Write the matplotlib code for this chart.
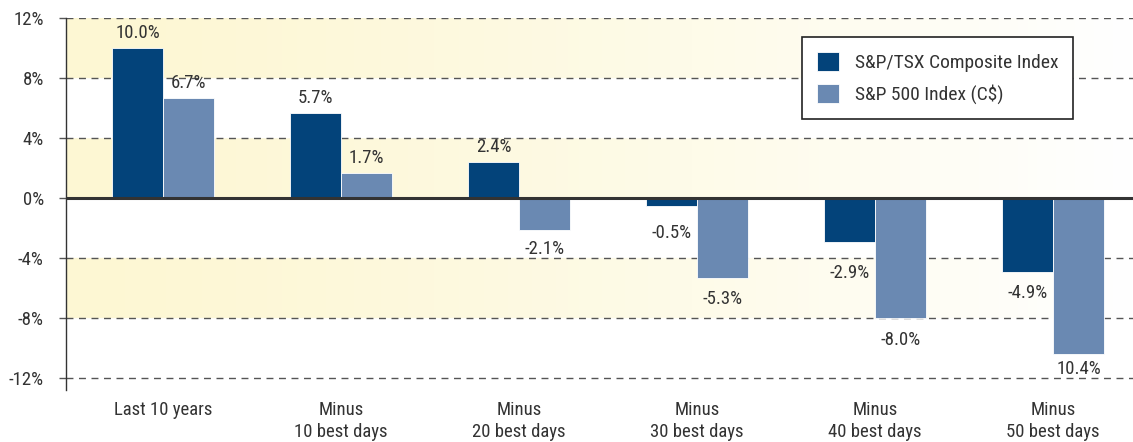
import matplotlib
matplotlib.use("Agg")

import numpy as np
import matplotlib.pyplot as plt
from matplotlib.colors import to_rgb

# Data
categories = ["Last 10 years", "Minus\n10 best days", "Minus\n20 best days",
              "Minus\n30 best days", "Minus\n40 best days", "Minus\n50 best days"]
tsx = [10.0, 5.7, 2.4, -0.5, -2.9, -4.9]
sp500 = [6.7, 1.7, -2.1, -5.3, -8.0, -10.4]
tsx_labels = ["10.0%", "5.7%", "2.4%", "-0.5%", "-2.9%", "-4.9%"]
sp500_labels = ["6.7%", "1.7%", "-2.1%", "-5.3%", "-8.0%", "10.4%"]
yticks = [-12, -8, -4, 0, 4, 8, 12]
bands = [(8, 12), (0, 4), (-8, -4)]

dark = "#03437A"
light = "#6A89B2"
text_col = "#333333"
plt.rcParams["font.family"] = ["Roboto Condensed", "Archivo Narrow", "DejaVu Sans"]
fs = 13.5

# extra label nudges (points) so labels clear the gridlines, as in the original
nudge = {(0, 3): -4, (0, 4): -7, (1, 2): 1.5, (1, 5): 5}

fig = plt.figure(figsize=(11.33, 4.42), dpi=100)
ax = fig.add_axes([0.0583, 0.1176, 0.9417, 0.8416])

xlo, xhi = -0.545, 5.45
ylo, yhi = -12.8, 12.0
ax.set_xlim(xlo, xhi)
ax.set_ylim(ylo, yhi)

# yellow-to-white gradient bands
ny, nx = 600, 400
yy = np.linspace(yhi, ylo, ny)
img = np.ones((ny, nx, 3))
yellow = np.array(to_rgb("#FDF7D3"))
t = np.linspace(0, 1, nx) ** 1.3
row = yellow[None, :] * (1 - t[:, None]) + np.ones(3)[None, :] * t[:, None]
for lo, hi in bands:
    mask = (yy >= lo) & (yy <= hi)
    img[mask] = row
ax.imshow(img, extent=(xlo, xhi, ylo, yhi), aspect="auto", zorder=0,
          interpolation="bilinear")

# grid lines
for y in yticks:
    if y == 0:
        continue
    ax.axhline(y, color="#555555", lw=1.0, ls=(0, (5, 4)), zorder=1)
ax.axhline(0, color="#333333", lw=2.2, zorder=4)

x = np.arange(len(categories))
w = 0.287
ax.bar(x - w / 2, tsx, w, color=dark, edgecolor="white", lw=0.6, zorder=3,
       label="S&P/TSX Composite Index")
ax.bar(x + w / 2, sp500, w, color=light, edgecolor="white", lw=0.6, zorder=3,
       label="S&P 500 Index (C$)")

series = [(x - w / 2, tsx, tsx_labels), (x + w / 2, sp500, sp500_labels)]
for si, (xs, vals, labs) in enumerate(series):
    for i, (xi, v, lab) in enumerate(zip(xs, vals, labs)):
        dy = nudge.get((si, i), 0)
        if v >= 0:
            ax.annotate(lab, (xi, v), xytext=(0, 4 + dy), textcoords="offset points",
                        ha="center", va="bottom", fontsize=fs, color=text_col)
        else:
            ax.annotate(lab, (xi, v), xytext=(0, -9 + dy), textcoords="offset points",
                        ha="center", va="top", fontsize=fs, color=text_col)

ax.set_yticks(yticks)
ax.set_yticklabels([f"{v}%" for v in yticks], fontsize=fs, color=text_col)
ax.set_xticks(x)
ax.set_xticklabels(categories, fontsize=fs, color=text_col, linespacing=1.3)
ax.tick_params(axis="x", length=0, pad=8)
ax.tick_params(axis="y", length=5, width=1, color="#555555", pad=11)

for s in ["top", "right", "bottom"]:
    ax.spines[s].set_visible(False)
ax.spines["left"].set_color("#333333")
ax.spines["left"].set_linewidth(1.0)

leg = ax.legend(loc="upper left", bbox_to_anchor=(0.690, 0.949), frameon=True,
                fancybox=False, fontsize=14.0, handlelength=1.14, handleheight=1.14,
                borderpad=0.76, labelspacing=0.6, handletextpad=0.8,
                borderaxespad=0)
leg.get_frame().set_edgecolor("#222222")
leg.get_frame().set_linewidth(1.2)
leg.get_frame().set_alpha(1)
for t_ in leg.get_texts():
    t_.set_color(text_col)
leg.set_zorder(6)

fig.savefig("out.png", dpi=100)
